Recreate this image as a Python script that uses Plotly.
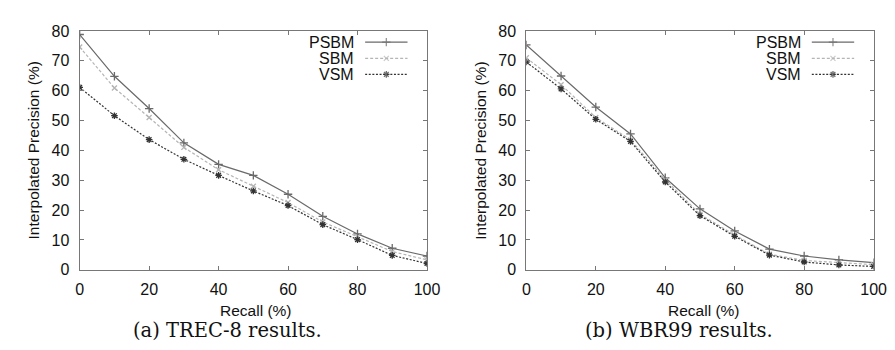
import plotly.graph_objects as go

recall = [0, 10, 20, 30, 40, 50, 60, 70, 80, 90, 100]

# (a) TREC-8
trec_psbm = [78.8, 64.8, 54.0, 42.5, 35.3, 31.6, 25.3, 17.9, 12.0, 7.2, 4.6]
trec_sbm = [74.6, 60.9, 51.0, 41.0, 33.5, 28.0, 22.5, 16.0, 11.0, 6.1, 3.3]
trec_vsm = [61.1, 51.6, 43.6, 37.0, 31.6, 26.4, 21.5, 15.1, 10.1, 4.8, 2.1]

# (b) WBR99
wbr_psbm = [75.3, 64.9, 54.5, 45.5, 30.8, 20.4, 13.0, 6.9, 4.6, 3.3, 2.4]
wbr_sbm = [71.0, 62.0, 51.0, 43.5, 30.2, 18.6, 11.6, 5.2, 3.1, 2.3, 1.7]
wbr_vsm = [69.6, 60.6, 50.4, 43.0, 29.4, 18.1, 11.2, 4.9, 2.6, 1.6, 1.1]

series_names = ["PSBM", "SBM", "VSM"]
x_ticks = [0, 20, 40, 60, 80, 100]
y_ticks = [0, 10, 20, 30, 40, 50, 60, 70, 80]
captions = ["(a) TREC-8 results.", "(b) WBR99 results."]
x_title = "Recall (%)"
y_title = "Interpolated Precision (%)"

SANS = "Arial"

styles = {
    "PSBM": dict(color="#6a6a6a", dash="solid", symbol="cross-thin-open", size=6),
    "SBM": dict(color="#b5b5b5", dash="3px,2px", symbol="x-thin-open", size=5),
    "VSM": dict(color="#333333", dash="2px,1.6px", symbol="asterisk-open", size=5.5),
}

W, H = 895, 350
PX0 = [69.0, 524.3]
PW = 354.0
PY_TOP, PY_BOT = 15.7, 266.7

fig = go.Figure()

panels = [
    (trec_psbm, trec_sbm, trec_vsm),
    (wbr_psbm, wbr_sbm, wbr_vsm),
]

for p, data in enumerate(panels):
    xa = "x" if p == 0 else "x2"
    ya = "y" if p == 0 else "y2"
    for name, vals in zip(series_names, data):
        s = styles[name]
        fig.add_trace(go.Scatter(
            x=recall, y=vals, mode="lines+markers", name=name,
            xaxis=xa, yaxis=ya, showlegend=False,
            line=dict(color=s["color"], width=1.2, dash=s["dash"]),
            marker=dict(symbol=s["symbol"], size=s["size"], color=s["color"],
                        line=dict(color=s["color"], width=1.3)),
        ))

# manual gnuplot-style legend (text then sample) on overlay axes
leg_rows = [0.953, 0.885, 0.818]
for p in range(2):
    xo = "x3" if p == 0 else "x4"
    yo = "y3" if p == 0 else "y4"
    for name, yr in zip(series_names, leg_rows):
        s = styles[name]
        fig.add_trace(go.Scatter(
            x=[0.822, 0.883, 0.944], y=[yr, yr, yr], mode="lines+markers",
            xaxis=xo, yaxis=yo, showlegend=False, hoverinfo="skip",
            line=dict(color=s["color"], width=1.2, dash=s["dash"]),
            marker=dict(symbol=s["symbol"], size=[0, s["size"], 0], color=s["color"],
                        line=dict(color=s["color"], width=1.3)),
        ))
        fig.add_annotation(
            text=name, xref="x domain" if p == 0 else "x2 domain",
            yref="y domain" if p == 0 else "y2 domain",
            x=0.796, y=yr, xanchor="right", yanchor="middle", showarrow=False,
            font=dict(family=SANS, size=16, color="#111111"),
        )

ydom = [1 - PY_BOT / H, 1 - PY_TOP / H]
axis_common = dict(
    ticks="inside", ticklen=4, tickwidth=1, tickcolor="#777777",
    showline=True, linecolor="#777777", linewidth=1.2, mirror="allticks",
    showgrid=False, zeroline=False,
    tickfont=dict(family=SANS, size=16, color="#111111"),
)

layout = dict(
    width=W, height=H, margin=dict(l=0, r=0, t=0, b=0),
    paper_bgcolor="white", plot_bgcolor="white", showlegend=False,
    font=dict(family=SANS),
)
for p in range(2):
    sfx = "" if p == 0 else "2"
    dom = [PX0[p] / W, (PX0[p] + PW) / W]
    layout["xaxis" + sfx] = dict(domain=dom, range=[0, 100], tickvals=x_ticks,
                                 anchor="y" + sfx, ticklabelstandoff=5, **axis_common)
    layout["yaxis" + sfx] = dict(domain=ydom, range=[0, 80], tickvals=y_ticks,
                                 anchor="x" + sfx, ticklabelstandoff=6, **axis_common)
    osfx = "3" if p == 0 else "4"
    layout["xaxis" + osfx] = dict(overlaying="x" + sfx, range=[0, 1], visible=False,
                                  anchor="y" + osfx)
    layout["yaxis" + osfx] = dict(overlaying="y" + sfx, range=[0, 1], visible=False,
                                  anchor="x" + osfx)

fig.update_layout(**layout)

sans = dict(family=SANS, size=15.5, color="#111111")
serif = dict(family="DejaVu Serif", size=19.5, color="#111111")
cap_x = [219.7, 680.0]
xtitle_x = [248.3, 705.0]
ytitle_x = [21.5, 477.5]
for p in range(2):
    fig.add_annotation(text=x_title, xref="paper", yref="paper", x=xtitle_x[p] / W,
                       y=1 - 310 / H, xanchor="center", yanchor="middle",
                       showarrow=False, font=sans)
    fig.add_annotation(text=y_title, xref="paper", yref="paper", x=ytitle_x[p] / W,
                       y=1 - (PY_TOP + PY_BOT) / 2 / H, textangle=-90,
                       xanchor="center", yanchor="middle", showarrow=False, font=sans)
    fig.add_annotation(text=captions[p], xref="paper", yref="paper", x=cap_x[p] / W,
                       y=1 - 331 / H, xanchor="center", yanchor="middle",
                       showarrow=False, font=serif)

fig.write_html("out.html")
